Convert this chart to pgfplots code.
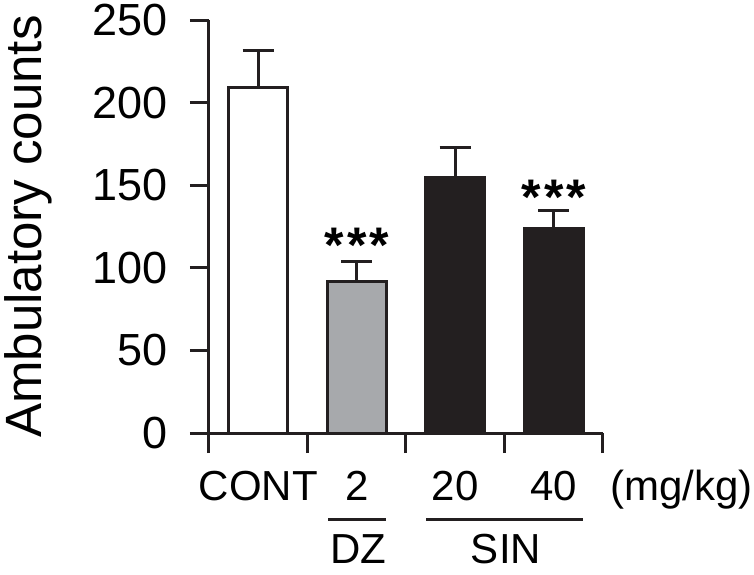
\documentclass[border=0pt]{standalone}
\usepackage{fontspec}
\setmainfont{Liberation Sans}
\usepackage{pgfplots}
\pgfplotsset{compat=1.18}
\definecolor{barGray}{RGB}{167,169,172}
\definecolor{barBlack}{RGB}{35,31,32}
\begin{document}
\begin{tikzpicture}
\begin{axis}[
 width=394pt, height=413pt, scale only axis,
 xmin=-0.5, xmax=3.5, ymin=0, ymax=250,
 axis x line*=bottom, axis y line*=left,
 axis line style={line width=3pt, barBlack},
 ytick={0,50,...,250},
 xtick={0,1,2,3}, xticklabels={CONT,2,20,40},
 minor xtick={-0.5,0.5,1.5,2.5,3.5},
 tick align=outside,
 major tick length=19pt, minor tick length=20pt,
 major x tick style={draw=none},
 tick style={line width=3pt, barBlack},
 /pgf/number format/assume math mode=true,
 yticklabel style={font=\fontsize{45}{54}\selectfont, anchor=east, inner sep=0pt, xshift=-22pt},
 xticklabel style={font=\fontsize{42}{50}\selectfont, anchor=base, inner sep=0pt, yshift=-48pt},
 every axis y label/.style={at={(axis description cs:-0.4239,0.5)}, rotate=90, anchor=base, font=\fontsize{51}{60}\selectfont, inner sep=0pt},
 ylabel={Ambulatory counts},
 clip=false,
 error bars/y dir=plus, error bars/y explicit,
 error bars/error bar style={line width=3pt, barBlack},
 error bars/error mark options={rotate=90, line width=3pt, mark size=15.5pt, barBlack},
]
\addplot[ybar, bar width=0.6, bar shift=0pt, fill=white, draw=barBlack, line width=3pt]
  coordinates {(0,209.3) +- (0,22.5)};
\addplot[ybar, bar width=0.6, bar shift=0pt, fill=barGray, draw=barBlack, line width=3pt]
  coordinates {(1,91.6) +- (0,12.5)};
\addplot[ybar, bar width=0.6, bar shift=0pt, fill=barBlack, draw=barBlack, line width=3pt]
  coordinates {(2,154.5) +- (0,18.2) (3,123.5) +- (0,11.3)};
\node[font=\bfseries\fontsize{50}{56}\selectfont, anchor=base, inner sep=0pt] at (axis cs:1,103) {*\kern3pt*\kern3pt*};
\node[font=\bfseries\fontsize{50}{56}\selectfont, anchor=base, inner sep=0pt] at (axis cs:3,132) {*\kern3pt*\kern3pt*};
\end{axis}
\draw[line width=3pt, barBlack] (119pt,-86pt) -- (177pt,-86pt);
\draw[line width=3pt, barBlack] (217pt,-86pt) -- (374pt,-86pt);
\node[anchor=base, inner sep=0pt, font=\fontsize{42}{50}\selectfont] at (149pt,-130pt) {DZ};
\node[anchor=base, inner sep=0pt, font=\fontsize{42}{50}\selectfont] at (297pt,-130pt) {SIN};
\node[anchor=base east, inner sep=0pt, font=\fontsize{42}{50}\selectfont] at (544pt,-67pt) {(mg/kg)};
\pgfresetboundingbox
\path[use as bounding box] (-209pt,-141pt) rectangle (545pt,433pt);
\end{tikzpicture}
\end{document}
